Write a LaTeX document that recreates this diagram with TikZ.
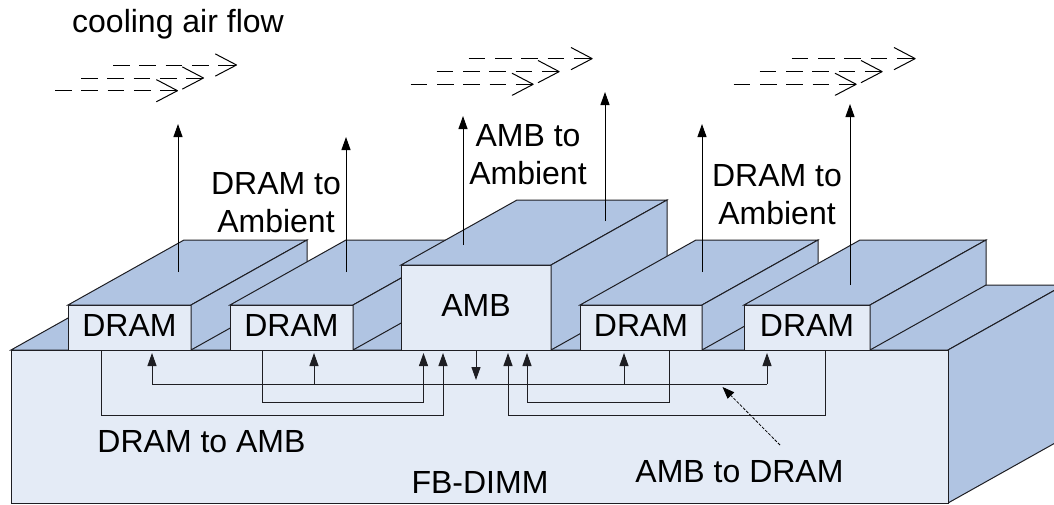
\documentclass[tikz,border=0pt]{standalone}
\usepackage{fontspec}
\setmainfont{Liberation Sans}
\usetikzlibrary{arrows.meta}
\definecolor{facedark}{RGB}{176,196,226}
\definecolor{facelight}{RGB}{228,235,246}
\definecolor{edgecol}{RGB}{30,30,35}
\tikzset{
  edgeline/.style={draw=edgecol,line width=1pt,line join=miter},
  deep/.style={edgeline,fill=facedark},
  frontface/.style={edgeline,fill=facelight,inner sep=0pt,outer sep=0pt,text depth=4pt,font=\fontsize{32}{38.5}\selectfont},
  lbl/.style={inner sep=0pt,outer sep=0pt,anchor=base,font=\fontsize{32}{38.5}\selectfont},
  lbltwo/.style={inner sep=0pt,outer sep=0pt,align=center,font=\fontsize{32}{38.5}\selectfont},
  heat/.style={-{Triangle[length=13pt,width=9pt]},line width=1pt,draw=black},
  wire/.style={-{Triangle[length=13pt,width=9pt]},line width=1pt,draw=edgecol},
  hint/.style={-{Triangle[length=12pt,width=9pt]},line width=.8pt,draw=black,dash pattern=on 3pt off 1.5pt},
  flow/.style={-{Straight Barb[length=21pt,width=22pt,line width=1pt,round=false]},line width=1pt,draw=black,dash pattern=on 16.7pt off 9.6pt},
}
\newcommand{\blockbox}[7]{%
  \node[frontface,minimum width=#4pt,minimum height=#5pt] (#1) at (#2,#3) {#6};
  \path[deep] (#1.north west) -- ++(116,-65) -- ++(#4,0) -- (#1.north east) -- cycle;
  \path[deep] (#1.north east) -- ++(116,-65) -- ++(0,#5) -- (#1.south east) -- cycle;
}
\newcommand{\flowgroup}[3]{%
  \coordinate (#1a) at (#2+55,#3+90.7);  \coordinate (#1b) at (#2+178,#3+90.7);
  \coordinate (#1c) at (#2+81,#3+78);    \coordinate (#1d) at (#2+204,#3+78);
  \coordinate (#1e) at (#2+113,#3+65);   \coordinate (#1f) at (#2+237,#3+65);
  \draw[flow] (#1a) -- (#1b);
  \draw[flow] (#1c) -- (#1d);
  \draw[flow] (#1e) -- (#1f);
}
\begin{document}
\begin{tikzpicture}[x=1pt,y=-1pt]
\useasboundingbox (0,0) rectangle (1054,504);
\clip (0,0) rectangle (1054,504);
% board
\path[deep] (11,350) -- (127,285) -- (1064,285) -- (948,350) -- cycle;
\path[deep] (948,350) -- (1064,285) -- (1064,438) -- (948,503) -- cycle;
\node[frontface,minimum width=937pt,minimum height=153pt] (board) at (479.5,426.5) {};
% blocks
\blockbox{dA}{129.5}{327.5}{123}{45}{DRAM}{}
\blockbox{dB}{291.5}{327.5}{123}{45}{DRAM}{}
\blockbox{amb}{476}{307.5}{150}{85}{AMB}{}
\blockbox{dC}{641}{327.5}{122}{45}{DRAM}{}
\blockbox{dD}{807}{327.5}{126}{45}{DRAM}{}
% labels
\node[lbl] (tflow) at (178,32) {cooling air flow};
\node[lbltwo] (tdl) at (276,202.5) {DRAM to\\Ambient};
\node[lbltwo] (tam) at (528,154.5) {AMB to\\Ambient};
\node[lbltwo] (tdr) at (777,194.5) {DRAM to\\Ambient};
\node[lbl] (tda) at (201.5,452) {DRAM to AMB};
\node[lbl] (tfb) at (480,493) {FB-DIMM};
\node[lbl] (tad) at (739.5,482) {AMB to DRAM};
% heat paths to ambient
\foreach \n/\xx/\ya/\yb in {hA/178/272/124,hB/346/272/137,hC/463/245/116,hD/605/221/92,hE/702/272/124,hF/850/285/104}{
  \coordinate (\n s) at (\xx,\ya);
  \coordinate (\n t) at (\xx,\yb);
  \draw[heat] (\n s) -- (\n t);
}
% cooling air
\flowgroup{fa}{0}{0}
\flowgroup{fb}{355.7}{-6.4}
\flowgroup{fc}{678.7}{-6.4}
% AMB to DRAM bus
\coordinate (busin) at (476,350);
\coordinate (busout) at (476,380);
\draw[wire] (busin) -- (busout);
\coordinate (busl) at (152,384);
\coordinate (busr) at (767,384);
\coordinate (tp1) at (152,353);
\coordinate (tp2) at (314,353);
\coordinate (tp3) at (624,353);
\coordinate (tp4) at (767,353);
\draw[edgeline] (busl) -- (busr);
\draw[wire] (busl) -- (tp1);
\draw[wire] (busr) -- (tp4);
\draw[wire] (tp2 |- busl) -- (tp2);
\draw[wire] (tp3 |- busl) -- (tp3);
% DRAM to AMB wires
\coordinate (wA) at (101,350); \coordinate (wAb) at (101,415); \coordinate (wAe) at (443,353);
\coordinate (wB) at (262,350); \coordinate (wBb) at (262,402); \coordinate (wBe) at (423.5,353);
\coordinate (wC) at (669,350); \coordinate (wCb) at (669,402); \coordinate (wCe) at (527,353);
\coordinate (wD) at (825,350); \coordinate (wDb) at (825,415); \coordinate (wDe) at (508,353);
\draw[wire] (wA) -- (wAb) -| (wAe);
\draw[wire] (wB) -- (wBb) -| (wBe);
\draw[wire] (wC) -- (wCb) -| (wCe);
\draw[wire] (wD) -- (wDb) -| (wDe);
% pointer
\coordinate (hints) at (780,445);
\coordinate (hintt) at (722.5,387);
\draw[hint] (hints) -- (hintt);
\end{tikzpicture}
\end{document}
